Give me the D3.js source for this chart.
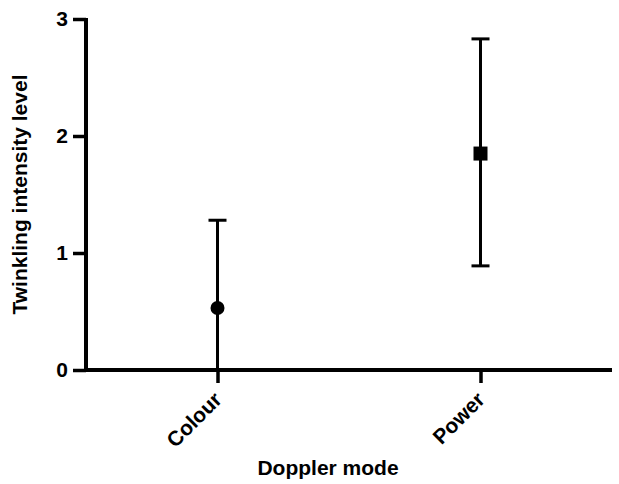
<!DOCTYPE html>
<html>
<head>
  <script src="https://d3js.org/d3.v7.min.js"></script>
  <style>
    body { margin: 0; background: #fff; }
    text { font-family: "Liberation Sans", Arial, sans-serif; font-weight: bold; fill: #000; }
  </style>
</head>
<body>
<div id="vis"></div>
<script>
// values
const modes = ["Colour", "Power"];
const means = [0.53, 1.85];
const upper = [1.28, 2.83];
const lower = [0, 0.89];
const yTicks = [0, 1, 2, 3];

const width = 619, height = 484;
const margin = { top: 19, right: 7, bottom: 114, left: 86 };

const svg = d3.select('#vis').append('svg')
  .attr('width', width)
  .attr('height', height);

const x = d3.scalePoint()
  .domain(modes)
  .range([margin.left, width - margin.right])
  .padding(0.5);

const y = d3.scaleLinear()
  .domain([0, 3])
  .range([height - margin.bottom, margin.top]);

// y axis
const yAxis = svg.append('g')
  .attr('transform', `translate(${margin.left},0)`)
  .call(d3.axisLeft(y).tickValues(yTicks).tickFormat(d3.format('d')).tickSize(13).tickPadding(5));
yAxis.select('.domain').attr('stroke-width', 4).attr('d', `M0,${y(3) - 1}V${y(0) + 2}`);
yAxis.selectAll('.tick line').attr('stroke-width', 3.5);
yAxis.selectAll('.tick text').style('font-size', '21px');

// x axis
const xAxis = svg.append('g')
  .attr('transform', `translate(0,${y(0)})`)
  .call(d3.axisBottom(x).tickSize(13));
xAxis.select('.domain').attr('stroke-width', 4)
  .attr('d', `M${margin.left - 2},0H${width - margin.right}`);
xAxis.selectAll('.tick line').attr('stroke-width', 3.5);
xAxis.selectAll('.tick text')
  .style('font-size', '21px')
  .attr('text-anchor', 'end')
  .attr('transform', 'translate(5,31) rotate(-45)')
  .attr('dy', '0')
  .attr('y', 0).attr('x', 0);

// error bars
const data = modes.map((m, i) => ({ mode: m, mean: means[i], hi: upper[i], lo: lower[i] }));
const bars = svg.append('g').selectAll('g').data(data).enter().append('g');
bars.append('line')
  .attr('x1', d => x(d.mode)).attr('x2', d => x(d.mode))
  .attr('y1', d => y(d.hi)).attr('y2', d => y(d.lo))
  .attr('stroke', '#000').attr('stroke-width', 3);
bars.append('line')
  .attr('x1', d => x(d.mode) - 9).attr('x2', d => x(d.mode) + 9)
  .attr('y1', d => y(d.hi)).attr('y2', d => y(d.hi))
  .attr('stroke', '#000').attr('stroke-width', 3);
bars.filter(d => d.lo > 0).append('line')
  .attr('x1', d => x(d.mode) - 9).attr('x2', d => x(d.mode) + 9)
  .attr('y1', d => y(d.lo)).attr('y2', d => y(d.lo))
  .attr('stroke', '#000').attr('stroke-width', 3);

// markers: circle for Colour, square for Power
svg.append('circle')
  .attr('cx', x(modes[0])).attr('cy', y(means[0])).attr('r', 7);
svg.append('rect')
  .attr('x', x(modes[1]) - 7).attr('y', y(means[1]) - 7)
  .attr('width', 14).attr('height', 14);

// axis titles
svg.append('text')
  .attr('transform', `translate(27,${(y(0) + y(3)) / 2}) rotate(-90)`)
  .attr('text-anchor', 'middle')
  .style('font-size', '21px')
  .text('Twinkling intensity level');

svg.append('text')
  .attr('x', 328).attr('y', 475)
  .attr('text-anchor', 'middle')
  .style('font-size', '21px')
  .text('Doppler mode');
</script>
</body>
</html>
